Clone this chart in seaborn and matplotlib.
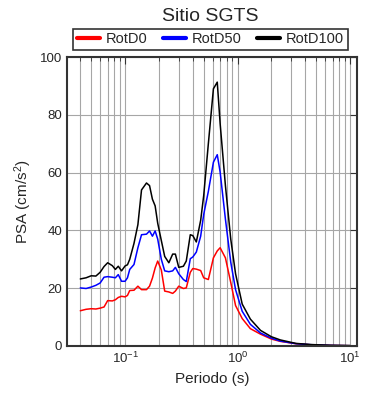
import numpy as np
import pandas as pd
import matplotlib
matplotlib.use("Agg")
import matplotlib.pyplot as plt
import seaborn as sns
from matplotlib.ticker import LogLocator, NullFormatter

periodo = [0.04, 0.045, 0.05, 0.055, 0.06, 0.065, 0.07, 0.077, 0.082, 0.087,
           0.093, 0.1, 0.105, 0.11, 0.12, 0.13, 0.14, 0.155, 0.165, 0.175,
           0.185, 0.195, 0.21, 0.225, 0.245, 0.265, 0.28, 0.3, 0.33, 0.35,
           0.38, 0.4, 0.43, 0.47, 0.5, 0.55, 0.61, 0.66, 0.7, 0.78,
           0.87, 0.96, 1.1, 1.3, 1.6, 2.0, 2.4, 3.3, 4.5, 6.7, 10.0]

rotd0 = [12.2, 12.7, 12.9, 12.8, 13.1, 13.5, 15.7, 15.6, 16.0, 16.8,
         17.2, 17.0, 17.5, 19.2, 19.3, 20.7, 19.5, 19.5, 20.7, 23.5,
         27.0, 29.4, 26.3, 19.0, 18.7, 18.2, 19.0, 20.7, 19.9, 20.1,
         25.5, 26.8, 26.6, 26.1, 23.6, 23.0, 30.5, 32.9, 34.0, 30.5,
         22.0, 14.0, 9.5, 6.0, 4.1, 2.4, 1.6, 0.8, 0.4, 0.2, 0.1]

rotd50 = [20.1, 19.9, 20.4, 21.0, 21.8, 23.8, 24.0, 23.8, 23.6, 24.7,
          22.4, 22.4, 23.6, 26.5, 28.2, 34.0, 38.5, 38.7, 39.8, 38.0,
          39.8, 37.0, 30.0, 26.0, 25.7, 26.0, 27.2, 25.0, 23.0, 22.3,
          30.2, 30.8, 32.5, 38.0, 45.5, 53.5, 63.6, 66.2, 60.2, 43.9,
          29.0, 19.5, 12.0, 7.5, 4.5, 2.7, 1.7, 0.8, 0.45, 0.2, 0.1]

rotd100 = [23.2, 23.6, 24.3, 24.2, 25.5, 27.5, 28.8, 27.8, 26.5, 27.6,
           26.0, 27.7, 28.1, 30.0, 35.5, 42.0, 54.0, 56.4, 55.5, 50.8,
           48.5, 42.5, 36.5, 31.0, 28.8, 31.8, 31.8, 27.2, 27.6, 29.4,
           38.5, 38.2, 36.0, 43.5, 52.0, 70.0, 89.0, 91.3, 77.0, 55.5,
           37.0, 25.0, 14.5, 9.3, 5.4, 3.2, 2.1, 0.9, 0.5, 0.25, 0.15]

series = ["RotD0", "RotD50", "RotD100"]
colores = ["#ff0000", "#0000ff", "#000000"]

df = pd.concat([
    pd.DataFrame({"Periodo": periodo, "PSA": v, "Serie": s})
    for s, v in zip(series, [rotd0, rotd50, rotd100])
])

sns.set_style("white")
plt.rcParams["font.family"] = ["Liberation Sans", "DejaVu Sans"]
plt.rcParams["mathtext.fontset"] = "custom"
plt.rcParams["mathtext.rm"] = "Liberation Sans"
plt.rcParams["mathtext.it"] = "Liberation Sans:italic"

fig = plt.figure(figsize=(3.9, 4.0), dpi=100)
ax = fig.add_axes([0.172, 0.135, 0.743, 0.7225])

sns.lineplot(data=df, x="Periodo", y="PSA", hue="Serie", hue_order=series,
             palette=colores, linewidth=1.1, ax=ax, legend=True)

ax.set_xscale("log")
ax.set_xlim(0.0305, 11.5)
ax.set_ylim(0, 100)
ax.set_yticks([0, 20, 40, 60, 80, 100])
ax.xaxis.set_major_locator(LogLocator(base=10, numticks=10))
ax.xaxis.set_minor_locator(LogLocator(base=10, subs=np.arange(2, 10), numticks=50))
ax.xaxis.set_minor_formatter(NullFormatter())

ax.grid(True, which="major", color="#a6a6a6", linewidth=0.8)
ax.grid(True, which="minor", axis="x", color="#a6a6a6", linewidth=0.8)
ax.set_axisbelow(True)

ax.tick_params(which="both", direction="in", top=True, right=True,
               labelsize=9.5, color="#333333")
ax.tick_params(which="major", length=5)
ax.tick_params(which="minor", length=3)
for sp in ax.spines.values():
    sp.set_color("#333333")
    sp.set_linewidth(1.5)

ax.set_xlabel("Periodo (s)", fontsize=11)
ax.set_ylabel("PSA (cm/s$^2$)", fontsize=11)
fig.text(0.54, 0.958, "Sitio SGTS", ha="center", va="center", fontsize=14)

handles, labels = ax.get_legend_handles_labels()
leg = ax.legend(handles, labels, ncol=3, loc="lower left",
                bbox_to_anchor=(0.021, 1.024, 0.948, 0.076), mode="expand",
                frameon=True, fancybox=False, edgecolor="black",
                fontsize=10.5, handlelength=1.6, borderaxespad=0,
                borderpad=0.25, handletextpad=0.4)
leg.get_frame().set_linewidth(1.2)
for lh in leg.get_lines():
    lh.set_linewidth(3)

fig.savefig("out.png", dpi=100)
